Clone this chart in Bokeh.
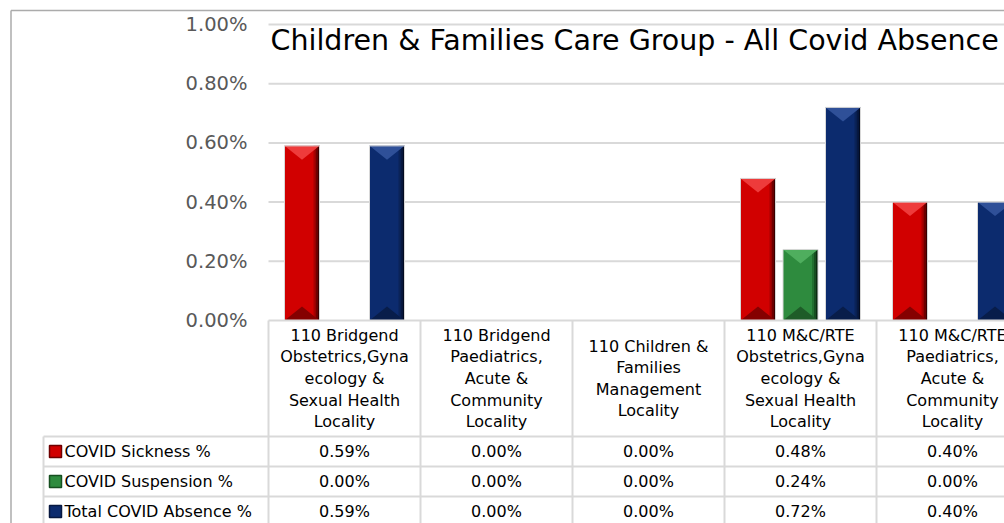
import numpy as np
from bokeh.plotting import figure
from bokeh.models import Range1d, LinearAxis, FixedTicker, PrintfTickFormatter, Label
from bokeh.core.properties import value
from bokeh.embed import file_html
from bokeh.resources import INLINE

# ---------------- data ----------------
categories = [
    "110 Bridgend\nObstetrics,Gyna\necology &\nSexual Health\nLocality",
    "110 Bridgend\nPaediatrics,\nAcute &\nCommunity\nLocality",
    "110 Children &\nFamilies\nManagement\nLocality",
    "110 M&C/RTE\nObstetrics,Gyna\necology &\nSexual Health\nLocality",
    "110 M&C/RTE\nPaediatrics,\nAcute &\nCommunity\nLocality",
]
series_names = ["COVID Sickness %", "COVID Suspension %", "Total COVID Absence %"]
sickness = [0.59, 0.00, 0.00, 0.48, 0.40]
suspension = [0.00, 0.00, 0.00, 0.24, 0.00]
total = [0.59, 0.00, 0.00, 0.72, 0.40]
y_ticks = [0.0, 0.2, 0.4, 0.6, 0.8, 1.0]
title_text = "Children & Families Care Group - All Covid Absence"

# ---------------- layout helpers (pixels -> data) ----------------
W, H = 1004, 523
CAT_PX = 152.0
PLOT_LEFT_PX = 268.0
ZERO_PX = 320.0
UNIT_PX = 296.0


def X(fx):
    return -0.5 + (fx - PLOT_LEFT_PX) / CAT_PX


def Y(fy):
    return (ZERO_PX - fy) / UNIT_PX


def dx(px):
    return px / CAT_PX


def dy(px):
    return px / UNIT_PX


n = len(categories)
idx = np.arange(n)

p = figure(width=W, height=H, output_backend="svg", toolbar_location=None,
           x_range=Range1d(X(0), X(W)), y_range=Range1d(Y(H), Y(0)),
           x_axis_location=None, y_axis_location=None, title=None,
           min_border=0, outline_line_color=None,
           background_fill_color="white", border_fill_color="white")
p.grid.visible = False

GRID = "#D9D9D9"
FONT = value("DejaVu Sans")

# outer chart border
p.segment(x0=[X(10.5), X(10.5)], y0=[Y(10), Y(10)], x1=[X(10.5), X(W)], y1=[Y(H), Y(10)],
          line_color="#ABABAB", line_width=1.5)

# gridlines (from the tick list)
gt = [t for t in y_ticks if t > 0]
p.segment(x0=[-0.5] * len(gt), x1=[X(W)] * len(gt), y0=gt, y1=gt,
          line_color=GRID, line_width=2)

# y axis at the plot's left edge
yaxis = LinearAxis(fixed_location=-0.5, ticker=FixedTicker(ticks=y_ticks),
                   formatter=PrintfTickFormatter(format="%.2f%%"),
                   axis_line_color=None, major_tick_line_color=None,
                   minor_tick_line_color=None, major_tick_out=0, major_tick_in=0,
                   major_label_text_font="DejaVu Sans",
                   major_label_text_font_size="19.5px",
                   major_label_text_color="#595959",
                   major_label_standoff=21)
p.add_layout(yaxis, "left")

# ---------------- bars ----------------
BW = dx(35)
OFF = dx(42.5)
styles = [
    dict(main="#D10000", strips=["#A80000", "#6E0000", "#380000"], top="#EE3B3B", bot="#850000", key_line="#6E0000"),
    dict(main="#2E8B3E", strips=["#22702F", "#174F20", "#0B2A10"], top="#4FAE5E", bot="#1E5C28", key_line="#174F20"),
    dict(main="#0C2B6E", strips=["#0A2358", "#071840", "#030B20"], top="#2F5098", bot="#081D4A", key_line="#071840"),
]
series_vals = [sickness, suspension, total]
offsets = [-OFF, 0.0, OFF]

for vals, off, st in zip(series_vals, offsets, styles):
    v = np.array(vals, dtype=float)
    m = v > 0
    xs = idx[m] + off
    tops = v[m]
    p.vbar(x=xs, top=tops, bottom=0, width=BW, fill_color=st["main"], line_color=None)
    # right side darkening
    for k, c in enumerate(st["strips"]):
        p.vbar(x=xs + BW / 2 - dx(5 - 2 * k), top=tops, bottom=0, width=dx(2),
               fill_color=c, line_color=None)
    # top (light) and bottom (dark) bevel facets
    d_top = dy(14)
    p.patches(xs=[[x - BW / 2, x + BW / 2, x] for x in xs],
              ys=[[t, t, t - d_top] for t in tops],
              fill_color=st["top"], line_color=None)
    p.patches(xs=[[x - BW / 2, x + BW / 2, x] for x in xs],
              ys=[[0, 0, d_top] for _ in tops],
              fill_color=st["bot"], line_color=None)
    p.vbar(x=xs, top=tops, bottom=0, width=BW, fill_color=None,
           line_color="#D8D8D8", line_width=1)

# ---------------- data table ----------------
row_lines_px = [436, 466, 496]
row_centers_px = [451, 481, 511]
LABEL_LEFT_PX = 43
# header top line
p.segment(x0=[-0.5], y0=[0], x1=[X(W)], y1=[0], line_color=GRID, line_width=2)
# row lines
p.segment(x0=[X(LABEL_LEFT_PX)] * 3, x1=[X(W)] * 3,
          y0=[Y(r) for r in row_lines_px], y1=[Y(r) for r in row_lines_px],
          line_color=GRID, line_width=2)
# vertical lines at category boundaries
bounds = list(idx - 0.5) + [n - 0.5]
p.segment(x0=bounds, x1=bounds, y0=[0] * len(bounds), y1=[Y(H)] * len(bounds),
          line_color=GRID, line_width=2)
p.segment(x0=[X(LABEL_LEFT_PX)], x1=[X(LABEL_LEFT_PX)], y0=[Y(row_lines_px[0])], y1=[Y(H)],
          line_color=GRID, line_width=2)

# header (category names)
p.text(x=idx, y=[Y(378)] * n, text=categories, text_align="center",
       text_baseline="middle", text_font=FONT, text_font_size="16px",
       text_line_height=1.135, text_color="#000000")

# rows
for r, (name, vals, st) in enumerate(zip(series_names, series_vals, styles)):
    yc = Y(row_centers_px[r])
    p.text(x=idx, y=[yc] * n, text=[f"{v:.2f}%" for v in vals], text_align="center",
           text_baseline="middle", text_font=FONT, text_font_size="16px",
           text_color="#000000")
    p.scatter(x=[X(55)], y=[yc], marker="square", size=12,
              fill_color=st["main"], line_color=st["key_line"], line_width=1.5)
    p.text(x=[X(64)], y=[yc], text=[name], text_align="left", text_baseline="middle",
           text_font=FONT, text_font_size="16px", text_color="#000000")

# title
p.add_layout(Label(x=X(270), y=Y(40), text=title_text, text_font="DejaVu Sans",
                   text_font_size="28.5px", text_color="#000000",
                   text_baseline="alphabetic"))

open("out.html", "w").write(file_html(p, INLINE))
